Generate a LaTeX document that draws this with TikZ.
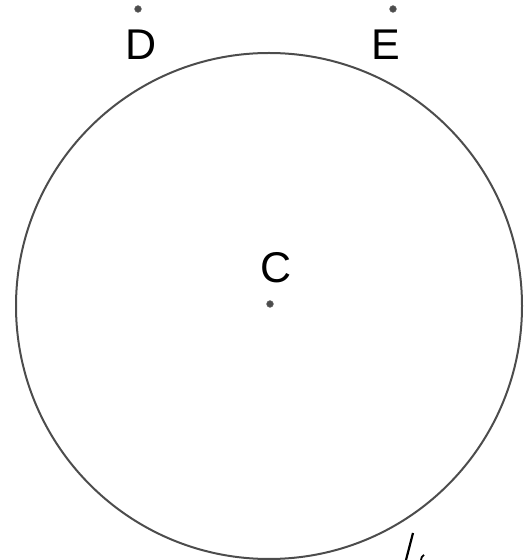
\documentclass[tikz,border=0pt]{standalone}
\usepackage{fontspec}
\setmainfont{Liberation Sans}
\begin{document}
\begin{tikzpicture}[x=1pt,y=1pt,
  pt/.style={circle,fill=black!70,draw=black!50,inner sep=0pt,minimum size=7pt},
  lbl/.style={font=\fontsize{43}{43}\selectfont,inner sep=0pt,text=black}]
\useasboundingbox (0,0) rectangle (529,560);
\coordinate (O) at (269,254);
\draw[black!70,line width=2pt] (O) circle (253);
\node[pt] (d) at (138,551) {};
\node[pt] (e) at (393,551) {};
\node[pt] (c) at (270,256) {};
\node[lbl] (D) at (141,515) {D};
\node[lbl] (E) at (386,515) {E};
\node[lbl] (C) at (276,292) {C};
\draw[line width=2.2pt] (413,27) -- (406,0);
\draw[line width=1.8pt] (421,0) arc (180:120:6);
\end{tikzpicture}
\end{document}
